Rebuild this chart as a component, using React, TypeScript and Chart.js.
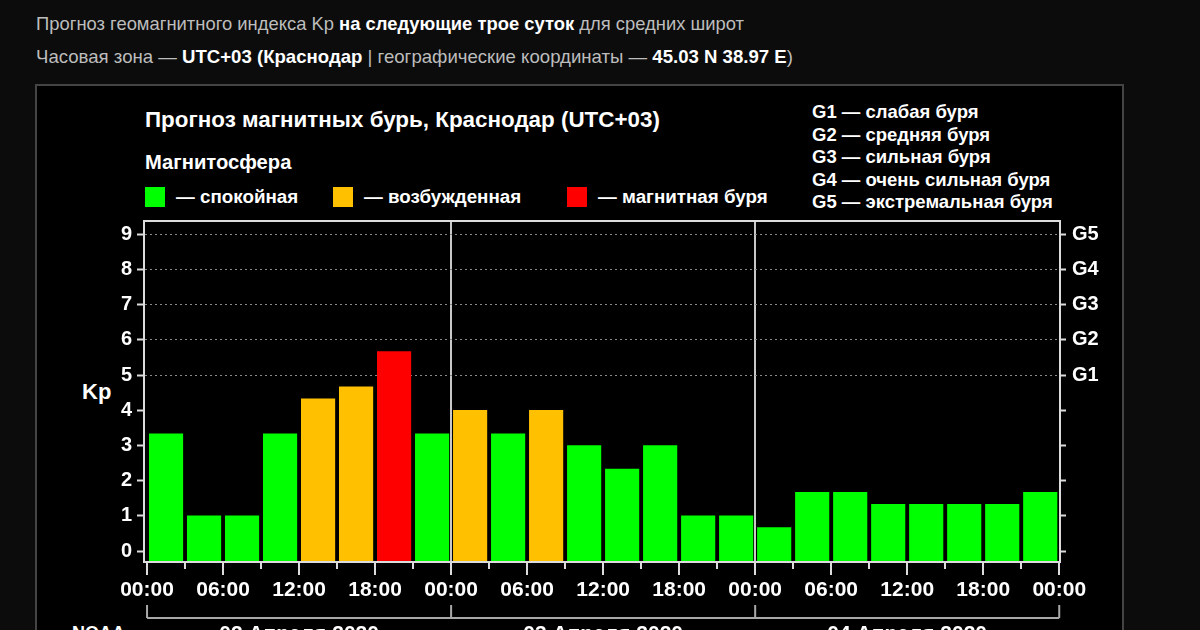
import React, { useEffect, useRef } from "react";
import { Chart, registerables } from "chart.js";

Chart.register(...registerables);

// ---- data ----
const KP_VALUES = [
  3.33, 1.0, 1.0, 3.33, 4.33, 4.67, 5.67, 3.33,
  4.0, 3.33, 4.0, 3.0, 2.33, 3.0, 1.0, 1.0,
  0.67, 1.67, 1.67, 1.33, 1.33, 1.33, 1.33, 1.67,
];
const HOUR_LABELS = ["00:00", "06:00", "12:00", "18:00"];
const DAY_LABELS = ["02 Апреля 2020", "03 Апреля 2020", "04 Апреля 2020"];
const KP_TICKS = [0, 1, 2, 3, 4, 5, 6, 7, 8, 9];
const G_LABELS = ["G1", "G2", "G3", "G4", "G5"];
const G_START = 5;
const G_LEGEND = [
  "G1 — слабая буря",
  "G2 — средняя буря",
  "G3 — сильная буря",
  "G4 — очень сильная буря",
  "G5 — экстремальная буря",
];
const STATES = [
  { label: "— спокойная", color: "#00ff00" },
  { label: "— возбужденная", color: "#ffc000" },
  { label: "— магнитная буря", color: "#ff0000" },
];
const SLOTS_PER_DAY = 8;

const Y_MIN = -0.31;
const Y_MAX = 9.38;
const X_MIN = -0.08;
const X_MAX = 24.02;

const FONT = "'Liberation Sans', Arial, sans-serif";

function barColor(v: number) {
  if (v >= 5) return STATES[2].color;
  if (v >= 4) return STATES[1].color;
  return STATES[0].color;
}

const bracketPlugin = {
  id: "dayBracket",
  afterDraw(chart: any) {
    const xs = chart.scales.x;
    const ctx = chart.ctx;
    const yLine = xs.bottom + 12;
    const yTop = xs.bottom - 1;
    const total = KP_VALUES.length;
    ctx.save();
    ctx.strokeStyle = "#a8a8a8";
    ctx.lineWidth = 2;
    ctx.beginPath();
    ctx.moveTo(xs.getPixelForValue(0), yLine);
    ctx.lineTo(xs.getPixelForValue(total), yLine);
    for (let d = 0; d <= DAY_LABELS.length; d++) {
      const px = xs.getPixelForValue(d * SLOTS_PER_DAY);
      ctx.moveTo(px, yTop);
      ctx.lineTo(px, yLine);
    }
    ctx.stroke();
    ctx.restore();
  },
};

function KpChart() {
  const ref = useRef<HTMLCanvasElement | null>(null);
  useEffect(() => {
    if (!ref.current) return;
    const n = KP_VALUES.length;
    const xTicks = Array.from({ length: n + 1 }, (_, i) => ({ value: i }));
    const yTicks = KP_TICKS.map((v) => ({ value: v }));
    const chart = new Chart(ref.current, {
      type: "bar",
      data: {
        datasets: [
          {
            data: KP_VALUES.map((v, i) => ({ x: i + 0.5, y: v })),
            backgroundColor: KP_VALUES.map(barColor),
            borderWidth: 0,
            barThickness: 33.5,
            base: Y_MIN,
            xAxisID: "x",
            yAxisID: "y",
          } as any,
        ],
      },
      options: {
        animation: false,
        responsive: false,
        maintainAspectRatio: false,
        layout: { padding: { left: 0, right: 0, top: 221, bottom: 0 } },
        plugins: {
          legend: { display: false },
          tooltip: { enabled: false },
          title: { display: false },
        },
        scales: {
          x: {
            type: "linear",
            position: "bottom",
            offset: false,
            min: X_MIN,
            max: X_MAX,
            weight: 0,
            afterBuildTicks: (s: any) => {
              s.ticks = xTicks.map((t) => ({ ...t }));
            },
            afterFit: (s: any) => {
              s.height = 44;
            },
            grid: {
              display: true,
              offset: false,
              drawOnChartArea: true,
              drawTicks: true,
              tickLength: 13,
              tickColor: "#dcdcdc",
              tickWidth: 2,
              lineWidth: 2,
              color: (c: any) => {
                const v = c.tick ? c.tick.value : -1;
                return v > 0 && v < n && v % SLOTS_PER_DAY === 0 ? "#c8c8c8" : "rgba(0,0,0,0)";
              },
              tickBorderDash: (c: any) => {
                const v = c.tick ? c.tick.value : 0;
                return v % 2 === 0 ? [] : [6, 60];
              },
            },
            border: { display: true, color: "#dcdcdc", width: 2, z: 1 },
            ticks: {
              autoSkip: false,
              maxRotation: 0,
              minRotation: 0,
              padding: 3,
              color: "#ffffff",
              font: { family: FONT, size: 21, weight: "bold" },
              callback: (v: any) => {
                const val = Number(v);
                return val % 2 === 0 ? HOUR_LABELS[(val / 2) % HOUR_LABELS.length] : "";
              },
            },
          },
          xd: {
            type: "linear",
            position: "bottom",
            offset: false,
            min: X_MIN,
            max: X_MAX,
            weight: 1,
            afterBuildTicks: (s: any) => {
              s.ticks = DAY_LABELS.map((_, i) => ({ value: i * SLOTS_PER_DAY + SLOTS_PER_DAY / 2 }));
            },
            afterFit: (s: any) => {
              s.height = 94;
            },
            grid: { display: false, drawTicks: false, offset: false },
            border: { display: false },
            ticks: {
              autoSkip: false,
              maxRotation: 0,
              padding: 16,
              color: "#ffffff",
              font: { family: FONT, size: 21, weight: "bold" },
              callback: (v: any) => DAY_LABELS[Math.floor(Number(v) / SLOTS_PER_DAY)] ?? "",
            },
          },
          xt: {
            type: "linear",
            position: "top",
            offset: false,
            min: X_MIN,
            max: X_MAX,
            afterFit: (s: any) => {
              s.height = 0;
            },
            grid: { display: false, drawTicks: false, offset: false },
            border: { display: true, color: "#dcdcdc", width: 2 },
            ticks: { display: false },
          },
          y: {
            type: "linear",
            position: "left",
            min: Y_MIN,
            max: Y_MAX,
            afterBuildTicks: (s: any) => {
              s.ticks = yTicks.map((t) => ({ ...t }));
            },
            afterFit: (s: any) => {
              s.width = 144;
            },
            grid: {
              display: true,
              drawTicks: true,
              tickLength: 7,
              tickColor: "#dcdcdc",
              tickWidth: 2,
              lineWidth: 1,
              color: (c: any) => {
                const v = c.tick ? c.tick.value : -1;
                return v >= G_START ? "#8a8a8a" : "rgba(0,0,0,0)";
              },
            },
            border: { display: true, color: "#dcdcdc", width: 2, dash: [2, 3] },
            ticks: {
              padding: 5,
              color: "#ffffff",
              font: { family: FONT, size: 20, weight: "bold" },
              callback: (v: any) => String(v),
            },
          },
          y2: {
            type: "linear",
            position: "right",
            min: Y_MIN,
            max: Y_MAX,
            afterBuildTicks: (s: any) => {
              s.ticks = yTicks.map((t) => ({ ...t }));
            },
            afterFit: (s: any) => {
              s.width = 140;
            },
            grid: {
              display: true,
              drawOnChartArea: false,
              drawTicks: true,
              tickLength: 6,
              tickColor: "#dcdcdc",
              tickWidth: 2,
            },
            border: { display: true, color: "#dcdcdc", width: 2 },
            ticks: {
              padding: 6,
              color: "#ffffff",
              font: { family: FONT, size: 20, weight: "bold" },
              callback: (v: any) => {
                const idx = Number(v) - G_START;
                return idx >= 0 && idx < G_LABELS.length ? G_LABELS[idx] : "";
              },
            },
          },
        },
      } as any,
      plugins: [bracketPlugin],
    });
    return () => chart.destroy();
  }, []);
  return (
    <canvas
      ref={ref}
      width={1200}
      height={700}
      style={{ position: "absolute", left: 0, top: 0, width: 1200, height: 700 }}
    />
  );
}

export default function App() {
  const dim = "#bdbdbd";
  const b = { color: "#ffffff", fontWeight: 700 } as const;
  return (
    <div
      style={{
        position: "fixed",
        left: 0,
        top: 0,
        width: 1200,
        height: 630,
        overflow: "hidden",
        background: "#0c0c0c",
        fontFamily: FONT,
      }}
    >
      <div style={{ position: "absolute", left: 36, top: 13, fontSize: 18.4, lineHeight: "22px", color: dim, whiteSpace: "nowrap" }}>
        Прогноз геомагнитного индекса Kp <span style={b}>на следующие трое суток</span> для средних широт
      </div>
      <div style={{ position: "absolute", left: 36, top: 46, fontSize: 18.6, lineHeight: "22px", color: dim, whiteSpace: "nowrap" }}>
        Часовая зона — <span style={b}>UTC+03</span> <span style={b}>(Краснодар</span> | географические координаты —{" "}
        <span style={b}>45.03 N 38.97 E</span>)
      </div>
      <div
        style={{
          position: "absolute",
          left: 35,
          top: 84,
          width: 1089,
          height: 700,
          boxSizing: "border-box",
          border: "2px solid #444444",
          background: "#000000",
        }}
      />
      <div style={{ position: "absolute", left: 145, top: 106, fontSize: 22.4, lineHeight: "28px", fontWeight: 700, color: "#fff", whiteSpace: "nowrap" }}>
        Прогноз магнитных бурь, Краснодар (UTC+03)
      </div>
      <div style={{ position: "absolute", left: 145, top: 150, fontSize: 20.2, lineHeight: "24px", fontWeight: 700, color: "#fff", whiteSpace: "nowrap" }}>
        Магнитосфера
      </div>
      {STATES.map((s, i) => (
        <div
          key={s.label}
          style={{
            position: "absolute",
            left: [145, 333, 567][i],
            top: 187,
            height: 20,
            display: "flex",
            alignItems: "center",
            whiteSpace: "nowrap",
          }}
        >
          <div style={{ width: 20, height: 20, background: s.color, flex: "none" }} />
          <div style={{ marginLeft: 11, fontSize: 18.8, lineHeight: "20px", fontWeight: 700, color: "#fff" }}>{s.label}</div>
        </div>
      ))}
      <div style={{ position: "absolute", left: 812, top: 101, fontSize: 18.5, lineHeight: "22.5px", fontWeight: 700, color: "#fff", whiteSpace: "nowrap" }}>
        {G_LEGEND.map((g) => (
          <div key={g}>{g}</div>
        ))}
      </div>
      <div style={{ position: "absolute", left: 82, top: 379, fontSize: 22, lineHeight: "26px", fontWeight: 700, color: "#fff" }}>Kp</div>
      <div style={{ position: "absolute", left: 72, top: 622, fontSize: 18, lineHeight: "22px", fontWeight: 700, color: "#fff" }}>NOAA</div>
      <KpChart />
    </div>
  );
}
